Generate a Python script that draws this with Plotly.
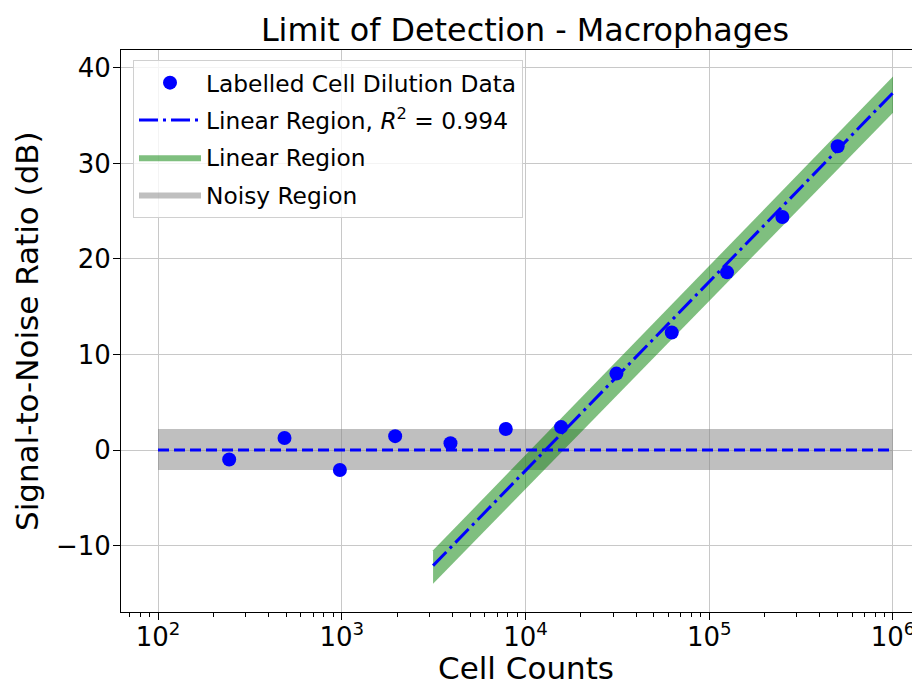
import plotly.graph_objects as go

# Data
cell_counts = [244, 488, 977, 1953, 3906, 7812, 15625, 31250, 62500, 125000, 250000, 500000]
snr_db = [-1.0, 1.25, -2.1, 1.45, 0.7, 2.2, 2.4, 8.0, 12.3, 18.6, 24.4, 31.8]

fit_x = [3140, 1000000]
fit_y = [-12.1, 37.4]
band_lo = [-14.0, 35.3]
band_hi = [-10.5, 39.1]

noise_x = [100, 1000000]
noise_level = [0, 0]
noise_lo = [-2.1, -2.1]
noise_hi = [2.2, 2.2]

x_tickvals = [1e2, 1e3, 1e4, 1e5, 1e6]
x_ticktext = ["10<sup>2</sup>", "10<sup>3</sup>", "10<sup>4</sup>", "10<sup>5</sup>", "10<sup>6</sup>"]
y_tickvals = [-10, 0, 10, 20, 30, 40]
y_ticktext = ["\u221210", "0", "10", "20", "30", "40"]

r2_label = "0.994"

FONT = "DejaVu Sans"
# The page body has an 8px margin, so the figure is offset by 8px.
OFF = 8
W, H = 920 - OFF, 685 - OFF
plot_l, plot_r, plot_t, plot_b = 121 - OFF, 920 - OFF, 50 - OFF, 612 - OFF

def px_x(px):
    return (px - OFF - plot_l) / (plot_r - plot_l)

def px_y(py):
    return (plot_b - (py - OFF)) / (plot_b - plot_t)

fig = go.Figure()

# Noisy region band
fig.add_trace(go.Scatter(x=noise_x, y=noise_lo, mode="lines", line=dict(width=0),
                         showlegend=False, hoverinfo="skip", legendgroup="d"))
fig.add_trace(go.Scatter(x=noise_x, y=noise_hi, mode="lines", line=dict(width=0),
                         fill="tonexty", fillcolor="rgba(128,128,128,0.5)",
                         name="Noisy Region", legendrank=4, legendgroup="d"))
# Linear region band
fig.add_trace(go.Scatter(x=fit_x, y=band_lo, mode="lines", line=dict(width=0),
                         showlegend=False, hoverinfo="skip", legendgroup="c"))
fig.add_trace(go.Scatter(x=fit_x, y=band_hi, mode="lines", line=dict(width=0),
                         fill="tonexty", fillcolor="rgba(0,128,0,0.5)",
                         name="Linear Region", legendrank=3, legendgroup="c"))
# Noise level line
fig.add_trace(go.Scatter(x=noise_x, y=noise_level, mode="lines",
                         line=dict(color="blue", width=3, dash="11px,5px"),
                         showlegend=False, legendgroup="d"))
# Fit line
fig.add_trace(go.Scatter(x=fit_x, y=fit_y, mode="lines",
                         line=dict(color="blue", width=3, dash="19px,5px,3px,5px"),
                         name="Linear Region, <i>R</i><sup>2</sup> = " + r2_label,
                         legendrank=2, legendgroup="b"))
# Data points
fig.add_trace(go.Scatter(x=cell_counts, y=snr_db, mode="markers",
                         marker=dict(color="blue", size=14),
                         name="Labelled Cell Dilution Data", legendrank=1, legendgroup="a"))

fig.update_layout(
    width=W, height=H,
    margin=dict(l=plot_l, r=W - plot_r, t=plot_t, b=H - plot_b),
    plot_bgcolor="white", paper_bgcolor="white",
    font=dict(family=FONT, color="black"),
    title=dict(text="Limit of Detection - Macrophages", font=dict(size=31.8),
               x=(525 - OFF) / W, xanchor="center", y=1 - (30 - OFF) / H, yanchor="middle"),
    legend=dict(x=px_x(133), y=px_y(60), xanchor="left", yanchor="top",
                traceorder="grouped", font=dict(size=23.3), itemwidth=62,
                bgcolor="rgba(255,255,255,0.8)",
                bordercolor="#d0d0d0", borderwidth=1, tracegroupgap=4),
    showlegend=True,
    annotations=[
        dict(text="Cell Counts", x=px_x(526), y=px_y(668), xref="paper", yref="paper",
             showarrow=False, font=dict(size=31), xanchor="center", yanchor="middle"),
        dict(text="Signal-to-Noise Ratio (dB)", x=px_x(27), y=px_y(331),
             xref="paper", yref="paper", textangle=-90,
             showarrow=False, font=dict(size=31), xanchor="center", yanchor="middle"),
    ],
)

fig.update_xaxes(
    type="log", range=[1.7986, 6.147], tickvals=x_tickvals, ticktext=x_ticktext,
    showline=True, linecolor="black", linewidth=1, mirror=True,
    ticks="outside", ticklen=7, tickcolor="black", automargin=False,
    ticklabelstandoff=-5,
    showgrid=True, gridcolor="#c8c8c8", gridwidth=1, zeroline=False,
    tickfont=dict(size=26),
    minor=dict(tickvals=[v * m for v in [1e1, 1e2, 1e3, 1e4, 1e5, 1e6] for m in range(2, 10)],
               ticks="outside", ticklen=4, tickcolor="black", showgrid=False),
)
fig.update_yaxes(
    range=[-16.96, 41.88], tickvals=y_tickvals, ticktext=y_ticktext,
    showline=True, linecolor="black", linewidth=1, mirror=False,
    ticks="outside", ticklen=7, tickcolor="black", automargin=False,
    ticklabelstandoff=-3,
    showgrid=True, gridcolor="#c8c8c8", gridwidth=1, zeroline=False,
    tickfont=dict(size=26),
)

fig.write_html("out.html")
